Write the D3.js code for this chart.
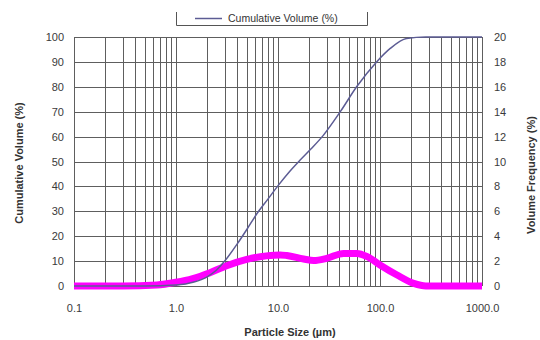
<!DOCTYPE html>
<html>
<head>
<meta charset="utf-8">
<script src="https://cdn.jsdelivr.net/npm/d3@7"></script>
<style>
  body { margin: 0; background: #ffffff; }
  text { font-family: "Liberation Sans", Arial, sans-serif; }
</style>
</head>
<body>
<div id="container"></div>
<script>
// particle size (um) vs cumulative volume (%)
var cumSizes = [0.1, 0.5, 1, 1.5, 2, 2.5, 3, 4, 5, 6.2, 8, 10.1, 13, 16.4, 21, 27.8, 40.8, 59, 92.6, 126, 182, 282, 1000]
var cumValues = [0, 0, 0.4, 1.6, 3.6, 6.4, 10, 17, 23, 29, 35, 40.5, 46, 50.5, 55, 60.5, 70, 80, 90, 95.4, 99.4, 100, 100]

// particle size (um) vs volume frequency (%)
var freqSizes = [0.1, 0.3, 0.65, 1, 1.46, 2.15, 3.14, 4.94, 7.7, 10.5, 12.2, 17.8, 22.4, 30, 43.9, 59.4, 74.9, 100, 147, 214, 282, 1000]
var freqValues = [0, 0, 0.08, 0.3, 0.6, 1.07, 1.63, 2.14, 2.42, 2.5, 2.45, 2.17, 2.05, 2.22, 2.62, 2.62, 2.36, 1.69, 0.88, 0.21, 0, 0]

var xTickValues = [0.1, 1, 10, 100, 1000]
var leftTickValues = [0, 10, 20, 30, 40, 50, 60, 70, 80, 90, 100]
var rightTickValues = [0, 2, 4, 6, 8, 10, 12, 14, 16, 18, 20]

var chartWidth = 540
var chartHeight = 340
var plotLeft = 74, plotRight = 482, plotTop = 37, plotBottom = 286

var svg = d3.select('#container').append('svg')
    .attr('width', chartWidth)
    .attr('height', chartHeight)

var x = d3.scaleLog().domain([0.1, 1000]).range([plotLeft, plotRight])
var yLeft = d3.scaleLinear().domain([0, 100]).range([plotBottom, plotTop])
var yRight = d3.scaleLinear().domain([0, 20]).range([plotBottom, plotTop])

var gridColor = '#5e5e5e'

// vertical grid lines (1..9 per decade)
svg.append('g').selectAll('line')
    .data(x.ticks())
    .enter()
    .append('line')
    .attr('x1', function(d){ return Math.round(x(d)) + 0.5 })
    .attr('x2', function(d){ return Math.round(x(d)) + 0.5 })
    .attr('y1', plotTop)
    .attr('y2', plotBottom)
    .attr('stroke', gridColor)
    .attr('stroke-width', 1)

// horizontal grid lines
svg.append('g').selectAll('line')
    .data(leftTickValues)
    .enter()
    .append('line')
    .attr('x1', plotLeft)
    .attr('x2', plotRight)
    .attr('y1', function(d){ return Math.round(yLeft(d)) + 0.5 })
    .attr('y2', function(d){ return Math.round(yLeft(d)) + 0.5 })
    .attr('stroke', gridColor)
    .attr('stroke-width', 1)

// axes
var xAxis = d3.axisBottom(x).tickValues(xTickValues).tickFormat(d3.format('.1f')).tickSize(0).tickPadding(18)
var leftAxis = d3.axisLeft(yLeft).tickValues(leftTickValues).tickSize(0).tickPadding(10)
var rightAxis = d3.axisRight(yRight).tickValues(rightTickValues).tickSize(0).tickPadding(12)

function styleAxis(g){
    g.select('.domain').remove()
    g.selectAll('text')
        .attr('font-size', 11)
        .attr('fill', '#3a3a3a')
        .style('font-family', '"Liberation Sans", Arial, sans-serif')
}

svg.append('g').attr('transform', 'translate(0,' + plotBottom + ')').call(xAxis).call(styleAxis)
svg.append('g').attr('transform', 'translate(' + plotLeft + ',0)').call(leftAxis).call(styleAxis)
svg.append('g').attr('transform', 'translate(' + plotRight + ',0)').call(rightAxis).call(styleAxis)

// frequency curve (thick magenta)
var freqLine = d3.line()
    .x(function(d){ return x(d[0]) })
    .y(function(d){ return yRight(d[1]) })
    .curve(d3.curveMonotoneX)

svg.append('path')
    .datum(d3.zip(freqSizes, freqValues))
    .attr('d', freqLine)
    .attr('fill', 'none')
    .attr('stroke', '#ff00ff')
    .attr('stroke-width', 7)
    .attr('stroke-linecap', 'butt')

// cumulative curve
var cumLine = d3.line()
    .x(function(d){ return x(d[0]) })
    .y(function(d){ return yLeft(d[1]) })
    .curve(d3.curveMonotoneX)

svg.append('path')
    .datum(d3.zip(cumSizes, cumValues))
    .attr('d', cumLine)
    .attr('fill', 'none')
    .attr('stroke', '#5c5c94')
    .attr('stroke-width', 1.5)

// axis titles
svg.append('text')
    .attr('transform', 'translate(23,163) rotate(-90)')
    .attr('text-anchor', 'middle')
    .attr('font-size', 11)
    .attr('font-weight', 'bold')
    .attr('fill', '#333')
    .text('Cumulative Volume (%)')

svg.append('text')
    .attr('transform', 'translate(535,175) rotate(-90)')
    .attr('text-anchor', 'middle')
    .attr('font-size', 11)
    .attr('font-weight', 'bold')
    .attr('fill', '#333')
    .text('Volume Frequency (%)')

svg.append('text')
    .attr('x', 290)
    .attr('y', 336)
    .attr('text-anchor', 'middle')
    .attr('font-size', 11)
    .attr('font-weight', 'bold')
    .attr('fill', '#333')
    .text('Particle Size (\u00b5m)')

// legend box (open at the top)
var legend = svg.append('g')
legend.append('path')
    .attr('d', 'M176.5,12V25.5H367.5V12')
    .attr('fill', 'none')
    .attr('stroke', '#555')
    .attr('stroke-width', 1)
legend.append('line')
    .attr('x1', 195).attr('x2', 222)
    .attr('y1', 18.5).attr('y2', 18.5)
    .attr('stroke', '#5c5c94')
    .attr('stroke-width', 1.5)
legend.append('text')
    .attr('x', 228)
    .attr('y', 22)
    .attr('font-size', 10.5)
    .attr('fill', '#333')
    .text('Cumulative Volume (%)')
</script>
</body>
</html>
